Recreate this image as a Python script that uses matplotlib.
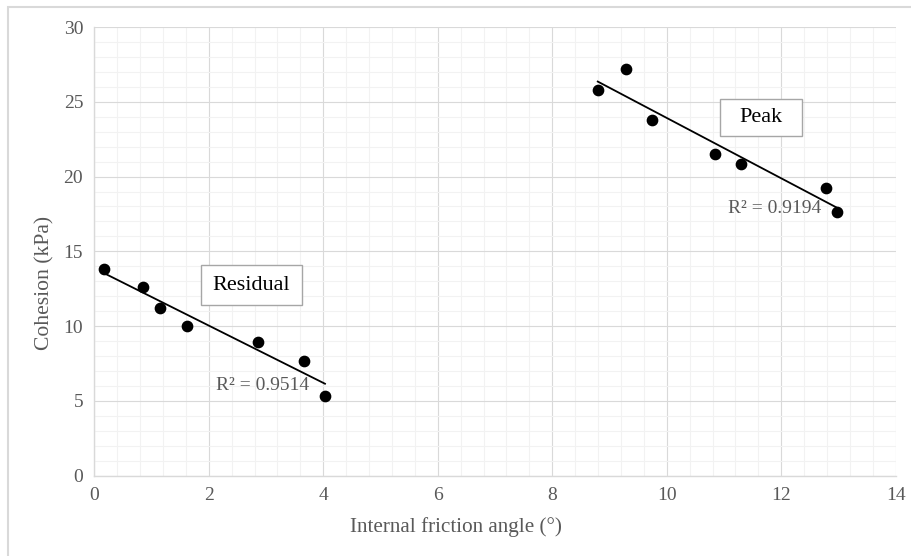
import numpy as np
import matplotlib
matplotlib.use("Agg")
import matplotlib.pyplot as plt
from matplotlib.ticker import MultipleLocator
from matplotlib.patches import Rectangle

# Data
residual_x = [0.17, 0.845, 1.148, 1.625, 2.866, 3.67, 4.03]
residual_y = [13.80, 12.64, 11.19, 10.01, 8.92, 7.67, 5.35]
peak_x = [8.795, 9.29, 9.74, 10.84, 11.29, 12.78, 12.97]
peak_y = [25.79, 27.17, 23.78, 21.51, 20.82, 19.21, 17.65]
residual_r2 = "R² = 0.9514"
peak_r2 = "R² = 0.9194"
xlabel = "Internal friction angle (°)"
ylabel = "Cohesion (kPa)"

plt.rcParams['font.family'] = ['Liberation Serif', 'DejaVu Serif']

fig = plt.figure(figsize=(9.12, 5.56), dpi=100)
ax = fig.add_axes([94.3/912, 1-475.7/556, (895.7-94.3)/912, (475.7-27)/556])

# outer chart border (left/top visible)
fig.patches.append(Rectangle((8/912, -0.1), 1.2, (556-7)/556 + 0.1, transform=fig.transFigure,
                             fill=False, edgecolor='#d9d9d9', linewidth=1.5))

ax.set_xlim(0, 14)
ax.set_ylim(0, 30)
ax.xaxis.set_major_locator(MultipleLocator(2))
ax.xaxis.set_minor_locator(MultipleLocator(0.4))
ax.yaxis.set_major_locator(MultipleLocator(5))
ax.yaxis.set_minor_locator(MultipleLocator(1))
ax.grid(which='minor', color='#f2f2f2', linewidth=0.8, zorder=0)
ax.grid(which='major', color='#d9d9d9', linewidth=0.8, zorder=0)
ax.set_axisbelow(True)
ax.tick_params(which='both', length=0, labelsize=14, labelcolor='#595959', pad=8)
for s in ['top', 'right']:
    ax.spines[s].set_visible(False)
for s in ['left', 'bottom']:
    ax.spines[s].set_color('#d9d9d9')
    ax.spines[s].set_linewidth(1.0)

fig.text(456/912, 1-527/556, xlabel, fontsize=15.2, color='#595959', ha='center', va='center')
fig.text(45/912, 1-283/556, ylabel, fontsize=15.6, color='#595959', ha='center', va='center',
         rotation=90)

for xs, ys in [(residual_x, residual_y), (peak_x, peak_y)]:
    xs = np.array(xs); ys = np.array(ys)
    m, b = np.polyfit(xs, ys, 1)
    xx = np.array([xs.min(), xs.max()])
    ax.plot(xx, m*xx + b, color='black', linewidth=1.3, zorder=3)
    ax.scatter(xs, ys, s=55, color='black', zorder=4, clip_on=False)

# label boxes (x0, y0, x1, y1 in data units)
for (x0, y0, x1, y1), label in [((1.859, 11.41, 3.623, 14.09), "Residual"),
                                 ((10.93, 22.71, 12.36, 25.17), "Peak")]:
    ax.add_patch(Rectangle((x0, y0), x1 - x0, y1 - y0, facecolor='white',
                           edgecolor='#a6a6a6', linewidth=1.0, zorder=5))
    ax.text((x0 + x1) / 2, (y0 + y1) / 2, label, fontsize=16, ha='center', va='center',
            color='black', zorder=6)

ax.text(2.94, 6.02, residual_r2, fontsize=14, ha='center', va='center', color='#595959', zorder=5)
ax.text(11.89, 17.88, peak_r2, fontsize=14, ha='center', va='center', color='#595959', zorder=5)

fig.savefig("out.png", dpi=100)
